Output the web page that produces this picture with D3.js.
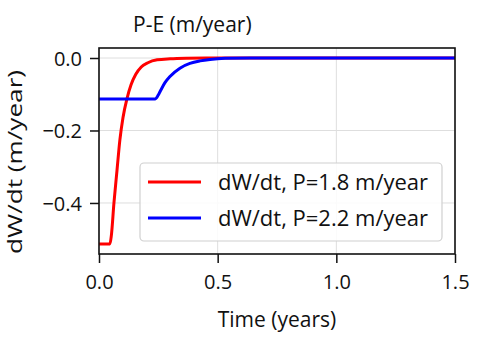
<!DOCTYPE html>
<html>
<head>
<meta charset="utf-8">
<script src="https://cdn.jsdelivr.net/npm/d3@7"></script>
<style>
  html, body { margin: 0; padding: 0; background: #fff; }
  svg { display: block; font-family: "Open Sans", "Noto Sans", sans-serif; }
</style>
</head>
<body>
<svg id="chart" width="498" height="344"></svg>
<script>
// ---- data ----
const seriesNames = ["dW/dt, P=1.8 m/year", "dW/dt, P=2.2 m/year"];
const seriesColors = ["#ff0000", "#0000ff"];

const redTime  = [0, 0.046, 0.052, 0.063, 0.076, 0.088, 0.101, 0.118, 0.135, 0.155, 0.178, 0.206, 0.245, 0.3, 0.37, 0.45, 1.5];
const redValue = [-0.513, -0.513, -0.49, -0.40, -0.309, -0.226, -0.165, -0.112, -0.074, -0.045, -0.025, -0.013, -0.005, -0.002, -0.0005, 0, 0];

const blueTime  = [0, 0.236, 0.249, 0.257, 0.278, 0.299, 0.341, 0.383, 0.426, 0.468, 0.531, 0.636, 1.5];
const blueValue = [-0.113, -0.113, -0.103, -0.093, -0.068, -0.051, -0.028, -0.015, -0.008, -0.004, -0.001, 0, 0];

const xTicks = [0, 0.5, 1.0, 1.5];
const xTickLabels = ["0.0", "0.5", "1.0", "1.5"];
const yTicks = [0, -0.2, -0.4];
const yTickLabels = ["0.0", "\u22120.2", "\u22120.4"];

const titleText = "P-E (m/year)";
const xLabelText = "Time (years)";
const yLabelText = "dW/dt (m/year)";

// ---- layout ----
const svg = d3.select("#chart");
const plot = { left: 99, right: 455, top: 48, bottom: 254 };

const x = d3.scaleLinear().domain([0, 1.5]).range([plot.left, plot.right]);
const y = d3.scaleLinear().domain([-0.5408, 0.0276]).range([plot.bottom, plot.top]);

// grid
const grid = svg.append("g");
grid.selectAll(".gx").data(xTicks).enter().append("line")
  .attr("x1", d => x(d)).attr("x2", d => x(d))
  .attr("y1", plot.top).attr("y2", plot.bottom)
  .attr("stroke", "#dedede").attr("stroke-width", 1);
grid.selectAll(".gy").data(yTicks).enter().append("line")
  .attr("x1", plot.left).attr("x2", plot.right)
  .attr("y1", d => y(d)).attr("y2", d => y(d))
  .attr("stroke", "#dedede").attr("stroke-width", 1);

// clip
svg.append("clipPath").attr("id", "clip").append("rect")
  .attr("x", plot.left).attr("y", plot.top)
  .attr("width", plot.right - plot.left).attr("height", plot.bottom - plot.top);

const line = d3.line().x(d => x(d[0])).y(d => y(d[1])).curve(d3.curveMonotoneX);
const series = [
  d3.zip(redTime, redValue),
  d3.zip(blueTime, blueValue)
];
const lines = svg.append("g").attr("clip-path", "url(#clip)");
series.forEach((s, i) => {
  lines.append("path").datum(s)
    .attr("d", line)
    .attr("fill", "none")
    .attr("stroke", seriesColors[i])
    .attr("stroke-width", 3)
    .attr("stroke-linejoin", "round");
});

// axes
const xAxis = d3.axisBottom(x).tickValues(xTicks)
  .tickFormat((d, i) => xTickLabels[i]).tickSize(9).tickPadding(12);
const yAxis = d3.axisLeft(y).tickValues(yTicks)
  .tickFormat((d, i) => yTickLabels[i]).tickSize(9).tickPadding(8);

const gx = svg.append("g").attr("transform", `translate(0,${plot.bottom})`).call(xAxis);
const gy = svg.append("g").attr("transform", `translate(${plot.left},0)`).call(yAxis);
[gx, gy].forEach(g => {
  g.select(".domain").remove();
  g.selectAll(".tick line").attr("stroke", "#111").attr("stroke-width", 1.5);
  g.selectAll(".tick text").attr("fill", "#111")
    .attr("font-family", "'Open Sans', sans-serif").attr("font-size", 20);
});
gy.selectAll(".tick text").attr("dy", "0.36em");

// frame
svg.append("rect")
  .attr("x", plot.left).attr("y", plot.top)
  .attr("width", plot.right - plot.left).attr("height", plot.bottom - plot.top)
  .attr("fill", "none").attr("stroke", "#111").attr("stroke-width", 1.6);

// legend
const lg = svg.append("g");
lg.append("rect")
  .attr("x", 140).attr("y", 163).attr("width", 302).attr("height", 78)
  .attr("rx", 4).attr("ry", 4)
  .attr("fill", "#fff").attr("fill-opacity", 0.85)
  .attr("stroke", "#d0d0d0").attr("stroke-width", 1.2);
seriesNames.forEach((name, i) => {
  const cy = 182 + i * 36;
  lg.append("line")
    .attr("x1", 148).attr("x2", 201).attr("y1", cy).attr("y2", cy)
    .attr("stroke", seriesColors[i]).attr("stroke-width", 3);
  lg.append("text")
    .attr("x", 218).attr("y", cy + 8)
    .attr("font-size", 22).attr("fill", "#111")
    .text(name);
});

// title and labels
svg.append("text").attr("x", 133).attr("y", 32)
  .attr("font-size", 21).attr("fill", "#111").text(titleText);
svg.append("text").attr("x", (plot.left + plot.right) / 2).attr("y", 327)
  .attr("text-anchor", "middle").attr("font-size", 21).attr("fill", "#111").text(xLabelText);
svg.append("text")
  .attr("transform", `translate(22,162) rotate(-90)`)
  .attr("text-anchor", "middle").attr("font-size", 20).attr("fill", "#111")
  .attr("textLength", 184).attr("lengthAdjust", "spacingAndGlyphs")
  .text(yLabelText);
</script>
</body>
</html>
